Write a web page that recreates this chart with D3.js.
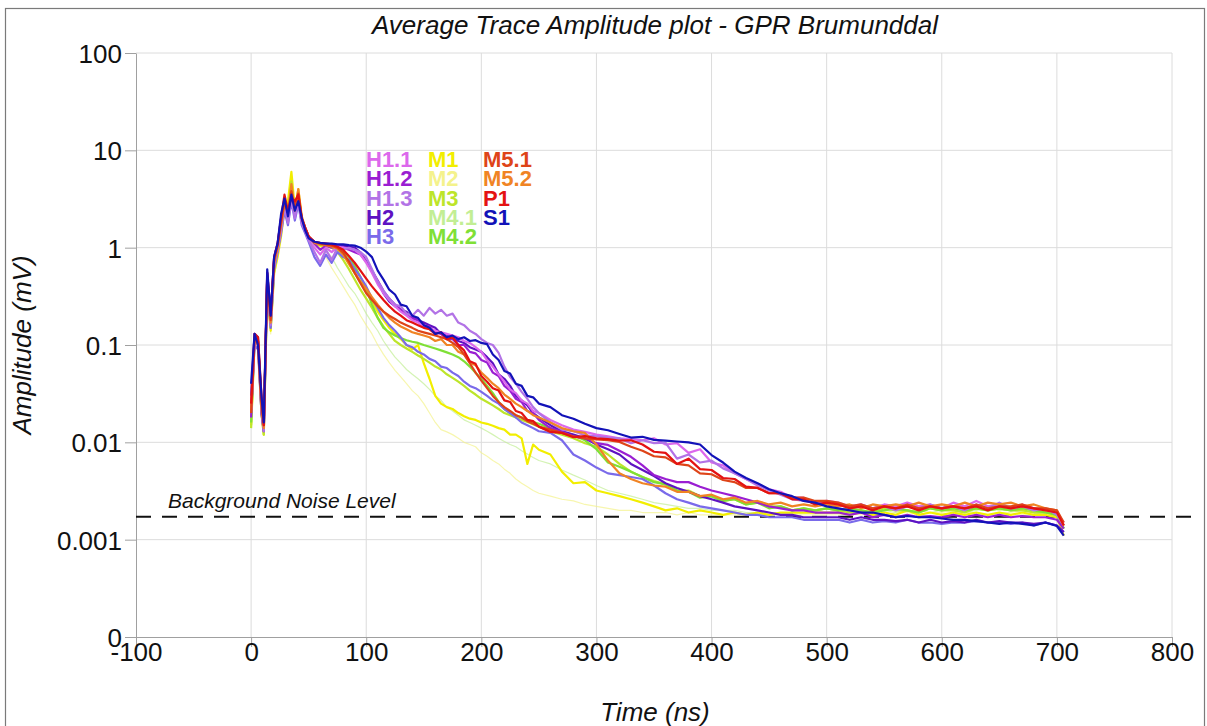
<!DOCTYPE html>
<html><head><meta charset="utf-8">
<script src="https://cdn.jsdelivr.net/npm/d3@7"></script>
<style>body{margin:0;background:#fff;} svg{display:block;font-family:"Liberation Sans",Arial,sans-serif;}</style>
</head><body><svg id="c" width="1207" height="726"></svg>
<script>
// ---- data (time in ns, amplitude in mV) ----
const times = [0,3,6,9,11,14,17,20,23,26,29,32,35,38,41,44,47,50,
55,60,65,70,75,80,85,90,95,100,
105,110,115,120,125,130,135,140,145,150,
155,160,165,170,175,180,185,190,195,200,
205,210,215,220,225,230,235,240,245,250,
260,270,280,290,300,310,320,330,340,350,
360,370,380,390,400,410,420,430,440,450,
460,470,480,490,500,
510,520,530,540,550,560,570,580,590,600,
610,620,630,640,650,660,670,680,690,700,706];

const S1 = [0.04,0.13,0.1,0.03,0.016,0.6,0.2,0.8,1.1,2.2,3.2,2.1,3.5,2.4,3.0,2.0,1.5,1.25,
1.15,1.12,1.1,1.1,1.08,1.08,1.06,1.05,1.0,0.91,
0.8,0.58,0.47,0.37,0.33,0.26,0.25,0.2,0.19,0.16,
0.15,0.13,0.135,0.12,0.125,0.115,0.12,0.11,0.112,0.105,
0.102,0.08,0.07,0.054,0.051,0.04,0.038,0.03,0.029,0.025,
0.023,0.019,0.0175,0.0155,0.014,0.0133,0.0122,0.0112,0.0114,0.0106,
0.0104,0.0102,0.01,0.0095,0.0074,0.0062,0.005,0.0043,0.0038,0.0033,
0.003,0.0028,0.0025,0.0024,0.0022,
0.0021,0.002,0.0019,0.0019,0.0018,0.0017,0.00175,0.0017,0.0017,0.00165,
0.0016,0.0016,0.00155,0.0015,0.00145,0.0015,0.00145,0.0014,0.0015,0.00138,0.0011];

const H1_3 = [0.02,0.11,0.1,0.022,0.013,0.45,0.16,0.65,0.95,1.5,2.6,1.8,3.2,2.0,3.4,1.8,1.5,1.2,
0.9,0.7,0.95,0.75,1.0,0.95,1.0,0.95,0.9,0.8,
0.6,0.45,0.36,0.3,0.26,0.25,0.21,0.2,0.23,0.2,
0.24,0.21,0.23,0.2,0.21,0.17,0.16,0.14,0.13,0.115,
0.105,0.1,0.083,0.06,0.047,0.04,0.033,0.028,0.023,0.02,
0.016,0.0135,0.013,0.0118,0.0115,0.0112,0.011,0.0098,0.0105,0.0098,
0.0099,0.0068,0.0075,0.0062,0.0065,0.0054,0.0048,0.0042,0.0036,0.0032,
0.0029,0.0026,0.0025,0.0024,0.0023,
0.0023,0.0021,0.0023,0.0021,0.0022,0.002,0.0022,0.0021,0.0023,0.0021,
0.0022,0.002,0.0023,0.0021,0.0024,0.0021,0.0022,0.002,0.0021,0.0018,0.0014];

const H1_2 = [0.018,0.12,0.11,0.02,0.013,0.5,0.18,0.75,1.0,1.7,2.9,2.0,3.6,2.1,3.3,1.9,1.6,1.3,
1.1,0.95,1.05,1.0,1.05,1.0,0.95,0.9,0.85,0.72,
0.58,0.46,0.36,0.3,0.26,0.23,0.21,0.19,0.18,0.16,
0.155,0.135,0.13,0.115,0.115,0.1,0.1,0.085,0.082,0.07,
0.066,0.052,0.048,0.038,0.034,0.028,0.026,0.021,0.02,0.017,
0.014,0.0128,0.0115,0.011,0.0098,0.0094,0.0082,0.0071,0.0058,0.0046,
0.0042,0.0039,0.0039,0.0035,0.0032,0.003,0.0028,0.0026,0.0024,0.0022,
0.0021,0.002,0.002,0.0019,0.0019,
0.0019,0.0018,0.0019,0.0017,0.0018,0.0017,0.0018,0.0017,0.00175,0.0017,
0.0018,0.0017,0.0018,0.0017,0.0018,0.0017,0.00175,0.0017,0.0017,0.0016,0.0013];

const H1_1 = [0.022,0.11,0.1,0.025,0.015,0.45,0.17,0.7,0.95,1.6,2.7,1.9,3.4,2.1,3.1,1.8,1.5,1.2,
1.0,0.85,1.0,0.9,1.02,1.0,0.98,0.95,0.85,0.7,
0.55,0.42,0.34,0.29,0.25,0.22,0.2,0.18,0.17,0.155,
0.15,0.14,0.135,0.13,0.125,0.12,0.11,0.105,0.095,0.085,
0.07,0.06,0.05,0.042,0.035,0.032,0.027,0.025,0.021,0.02,
0.017,0.015,0.0135,0.0128,0.012,0.0115,0.011,0.0108,0.0105,0.011,
0.0095,0.0098,0.0078,0.0085,0.0062,0.0058,0.0048,0.0042,0.0037,0.0033,
0.0031,0.0027,0.0027,0.0024,0.0025,
0.0024,0.0022,0.0023,0.0021,0.0023,0.0022,0.0024,0.0022,0.0023,0.0021,
0.0024,0.0022,0.0025,0.0022,0.0023,0.0021,0.0023,0.0021,0.0021,0.0019,0.0015];

const H2 = [0.03,0.13,0.12,0.028,0.014,0.55,0.2,0.8,1.1,2.0,3.0,2.2,3.6,2.3,3.2,2.0,1.6,1.3,
1.15,1.1,1.1,1.08,1.05,1.05,1.02,1.0,0.89,0.72,
0.58,0.45,0.34,0.28,0.25,0.23,0.22,0.19,0.18,0.17,
0.16,0.15,0.13,0.128,0.118,0.11,0.105,0.095,0.09,0.085,
0.075,0.065,0.05,0.045,0.038,0.03,0.027,0.024,0.02,0.018,
0.015,0.013,0.012,0.011,0.0095,0.0085,0.0075,0.006,0.0052,0.0045,
0.0038,0.0034,0.0031,0.0028,0.0026,0.0024,0.0022,0.0021,0.002,0.0019,
0.0018,0.0018,0.0017,0.0017,0.0017,
0.0017,0.0016,0.0017,0.0016,0.0016,0.00155,0.0016,0.0015,0.0016,0.0015,
0.00155,0.0015,0.0016,0.0015,0.00155,0.0015,0.0015,0.00145,0.0015,0.0014,0.0012];

const H3 = [0.02,0.1,0.09,0.02,0.013,0.4,0.15,0.6,0.9,1.4,2.4,1.7,3.0,1.9,2.8,1.7,1.4,1.15,
0.8,0.65,0.85,0.7,0.9,0.8,0.75,0.6,0.5,0.4,
0.3,0.24,0.19,0.16,0.14,0.12,0.1,0.095,0.085,0.08,
0.072,0.068,0.06,0.058,0.052,0.048,0.042,0.038,0.036,0.033,
0.03,0.027,0.025,0.022,0.02,0.018,0.016,0.015,0.014,0.013,
0.0125,0.0105,0.0075,0.0065,0.0055,0.0048,0.0046,0.0044,0.0042,0.0036,
0.003,0.0026,0.0024,0.0022,0.0021,0.002,0.0019,0.0018,0.0018,0.0017,
0.0017,0.0017,0.0016,0.0016,0.0016,
0.0016,0.0015,0.0016,0.0015,0.00155,0.0015,0.0016,0.0015,0.0015,0.00145,
0.0015,0.0015,0.00155,0.0015,0.0015,0.00145,0.0015,0.0014,0.0015,0.0014,0.0012];

const M1 = [0.015,0.11,0.1,0.02,0.012,0.35,0.14,0.55,0.8,1.3,2.5,3.0,6.0,2.5,4.0,2.0,1.6,1.3,
1.1,1.05,1.03,1.0,0.95,0.85,0.68,0.55,0.44,0.36,
0.28,0.22,0.18,0.15,0.13,0.115,0.1,0.09,0.1,0.065,
0.045,0.03,0.025,0.023,0.022,0.02,0.0185,0.0175,0.017,0.016,
0.0155,0.0148,0.014,0.0135,0.012,0.012,0.011,0.006,0.0095,0.0084,
0.0075,0.005,0.0038,0.0039,0.0032,0.003,0.0028,0.0026,0.0024,0.0022,
0.002,0.0021,0.0019,0.002,0.0019,0.0018,0.0019,0.0018,0.0019,0.0018,
0.0019,0.0019,0.0019,0.0019,0.0019,
0.0019,0.0018,0.0019,0.0018,0.0019,0.0018,0.002,0.0018,0.0019,0.0018,
0.0019,0.0018,0.0019,0.0018,0.0019,0.0018,0.0019,0.0018,0.0018,0.0017,0.0011];

const M2 = [0.016,0.1,0.09,0.02,0.013,0.35,0.13,0.5,0.8,1.3,2.2,1.8,4.5,2.0,3.0,1.7,1.4,1.2,
1.05,1.0,0.8,0.62,0.5,0.4,0.32,0.26,0.2,0.16,
0.13,0.1,0.08,0.066,0.055,0.047,0.04,0.034,0.03,0.025,
0.02,0.016,0.0135,0.0128,0.012,0.011,0.01,0.0095,0.009,0.0078,
0.0072,0.0065,0.006,0.0053,0.0048,0.0042,0.0038,0.0035,0.0032,0.003,
0.0028,0.0026,0.0025,0.0023,0.0022,0.0021,0.002,0.002,0.0019,0.0019,
0.0019,0.0018,0.0019,0.0018,0.0018,0.0018,0.0018,0.0018,0.0018,0.0018,
0.0018,0.0018,0.0018,0.0018,0.0018,
0.0018,0.0019,0.0018,0.0019,0.0018,0.0019,0.0019,0.0018,0.0019,0.0019,
0.0018,0.0019,0.0019,0.0018,0.0019,0.0019,0.0018,0.0019,0.0018,0.0017,0.0012];

const M3 = [0.014,0.11,0.1,0.02,0.012,0.4,0.15,0.6,0.9,1.5,2.6,2.2,4.8,2.2,3.5,1.9,1.5,1.25,
1.1,1.07,1.05,1.0,0.9,0.75,0.6,0.47,0.37,0.3,
0.24,0.19,0.155,0.13,0.11,0.1,0.092,0.085,0.078,0.072,
0.066,0.06,0.056,0.05,0.046,0.042,0.038,0.034,0.031,0.028,
0.026,0.024,0.022,0.02,0.019,0.018,0.017,0.0162,0.0153,0.0145,
0.013,0.012,0.011,0.0098,0.009,0.0075,0.006,0.005,0.0044,0.004,
0.0037,0.0032,0.0032,0.0028,0.0028,0.0025,0.0026,0.0023,0.0024,0.0022,
0.0022,0.002,0.0021,0.002,0.0021,
0.002,0.0019,0.002,0.0019,0.0021,0.002,0.002,0.0019,0.0021,0.002,
0.002,0.0019,0.0021,0.002,0.0021,0.002,0.002,0.0019,0.0019,0.0018,0.0013];

const M4_1 = [0.017,0.1,0.1,0.022,0.013,0.4,0.14,0.55,0.85,1.4,2.3,1.9,3.5,2.0,2.9,1.7,1.4,1.2,
1.08,1.04,0.95,0.8,0.62,0.5,0.4,0.34,0.27,0.21,
0.17,0.14,0.11,0.09,0.075,0.065,0.056,0.05,0.045,0.04,
0.035,0.03,0.027,0.023,0.021,0.019,0.017,0.016,0.015,0.014,
0.013,0.012,0.011,0.0102,0.0095,0.009,0.0082,0.0076,0.007,0.0065,
0.006,0.0052,0.0046,0.0041,0.0036,0.0032,0.003,0.0028,0.0026,0.0024,
0.0023,0.0022,0.0021,0.0021,0.002,0.002,0.002,0.0019,0.0019,0.0019,
0.0019,0.0019,0.0019,0.0019,0.0019,
0.0019,0.002,0.0019,0.002,0.002,0.0019,0.002,0.002,0.0019,0.002,
0.002,0.0019,0.002,0.0021,0.002,0.002,0.0019,0.002,0.0019,0.0018,0.0013];

const M4_2 = [0.016,0.12,0.11,0.024,0.014,0.45,0.16,0.65,0.95,1.5,2.7,2.0,3.9,2.1,3.2,1.8,1.5,1.25,
1.12,1.08,1.06,1.03,1.0,0.92,0.8,0.65,0.5,0.38,
0.26,0.19,0.15,0.135,0.125,0.118,0.112,0.108,0.105,0.1,
0.096,0.092,0.088,0.084,0.08,0.075,0.068,0.06,0.052,0.045,
0.038,0.032,0.026,0.022,0.02,0.019,0.018,0.017,0.0162,0.0155,
0.014,0.013,0.0118,0.0105,0.0085,0.0062,0.0056,0.005,0.0044,0.0039,
0.0037,0.0032,0.0031,0.0027,0.0028,0.0025,0.0026,0.0023,0.0024,0.0021,
0.0022,0.002,0.0021,0.002,0.0021,
0.002,0.0021,0.002,0.0019,0.002,0.0021,0.002,0.0019,0.0021,0.002,
0.0021,0.002,0.0021,0.002,0.0021,0.002,0.0021,0.002,0.0019,0.0018,0.0013];

const M5_1 = [0.02,0.12,0.11,0.025,0.015,0.5,0.18,0.75,1.05,1.8,3.0,2.3,3.8,2.6,3.6,2.0,1.6,1.3,
1.15,1.1,1.08,1.05,1.0,0.89,0.72,0.55,0.43,0.34,
0.29,0.25,0.22,0.2,0.185,0.17,0.16,0.15,0.14,0.135,
0.13,0.125,0.12,0.115,0.105,0.095,0.08,0.065,0.052,0.043,
0.036,0.03,0.026,0.023,0.021,0.019,0.018,0.0165,0.0155,0.0145,
0.0135,0.0125,0.0115,0.011,0.0107,0.0105,0.0101,0.009,0.0082,0.0072,
0.007,0.006,0.0058,0.0048,0.0047,0.0041,0.0039,0.0034,0.0034,0.003,
0.003,0.0027,0.0027,0.0025,0.0025,
0.0024,0.0022,0.0023,0.0021,0.0022,0.0021,0.0023,0.0021,0.0022,0.0021,
0.0022,0.0021,0.0023,0.0021,0.0022,0.0022,0.0023,0.0021,0.0021,0.002,0.0015];

const M5_2 = [0.02,0.12,0.1,0.022,0.014,0.5,0.17,0.7,1.0,1.7,2.8,2.3,4.5,2.4,4.0,2.1,1.6,1.3,
1.12,1.08,1.06,1.03,0.98,0.85,0.68,0.55,0.45,0.38,
0.31,0.26,0.22,0.19,0.17,0.155,0.145,0.135,0.13,0.125,
0.12,0.11,0.115,0.1,0.1,0.085,0.08,0.066,0.062,0.052,
0.046,0.04,0.036,0.031,0.028,0.025,0.023,0.021,0.019,0.018,
0.016,0.014,0.013,0.0125,0.0095,0.0065,0.0048,0.0042,0.0038,0.0036,
0.0035,0.0031,0.0031,0.0028,0.0029,0.0026,0.0027,0.0024,0.0025,0.0023,
0.0024,0.0022,0.0023,0.0022,0.0023,
0.0022,0.0023,0.0021,0.0023,0.0022,0.0023,0.0022,0.0024,0.0022,0.0023,
0.0022,0.0024,0.0022,0.0024,0.0023,0.0024,0.0022,0.0023,0.0021,0.002,0.0014];

const P1 = [0.025,0.13,0.12,0.03,0.015,0.55,0.2,0.8,1.1,2.0,3.5,2.4,3.3,3.0,3.5,2.0,1.6,1.3,
1.15,1.12,1.1,1.08,1.02,0.95,0.82,0.7,0.58,0.48,
0.4,0.34,0.29,0.25,0.22,0.2,0.18,0.17,0.16,0.15,
0.145,0.13,0.135,0.115,0.12,0.1,0.088,0.068,0.064,0.048,
0.042,0.036,0.034,0.027,0.026,0.021,0.02,0.017,0.0165,0.0145,
0.0128,0.0125,0.0113,0.0116,0.011,0.0108,0.0104,0.0105,0.0095,0.008,
0.0078,0.006,0.0068,0.0053,0.0052,0.0043,0.0042,0.0035,0.0034,0.003,
0.003,0.0026,0.0026,0.0023,0.0024,
0.0023,0.0021,0.0022,0.002,0.0022,0.0021,0.0022,0.002,0.0022,0.0021,
0.0022,0.0021,0.0022,0.002,0.0022,0.0021,0.0022,0.0021,0.002,0.0019,0.0014];

const seriesNames = ["H1.1","H1.2","H1.3","H2","H3","M1","M2","M3","M4.1","M4.2","M5.1","M5.2","P1","S1"];
const seriesValues = [H1_1,H1_2,H1_3,H2,H3,M1,M2,M3,M4_1,M4_2,M5_1,M5_2,P1,S1];
const seriesColors = ["#dc68ec","#9a1ed2","#b273e6","#5e12c2","#7a6aea","#f2ee00","#f4f28c","#bde52a","#c2ee94","#7fe036","#de4418","#f08424","#e41212","#1212b8"];
const drawOrder = ["M2","M4.1","M1","M3","M4.2","H3","H2","H1.2","H1.1","H1.3","M5.2","M5.1","P1","S1"];
const faintSeries = ["M2","M4.1"];

const xTicks = [-100,0,100,200,300,400,500,600,700,800];
const yTickValues = [0.0001,0.001,0.01,0.1,1,10,100];
const yTickLabels = ["0","0.001","0.01","0.1","1","10","100"];
const noiseLevel = 0.00172;

const legendColumns = [["H1.1","H1.2","H1.3","H2","H3"],["M1","M2","M3","M4.1","M4.2"],["M5.1","M5.2","P1","S1"]];

// ---- drawing ----
const svg = d3.select("#c");
const L = 136, R = 1172, T = 53, B = 637;
const x = d3.scaleLinear().domain([-100, 800]).range([L, R]);
const y = d3.scaleLog().domain([0.0001, 100]).range([B, T]);

svg.append("rect").attr("x",5.5).attr("y",8.5).attr("width",1199).attr("height",740)
  .attr("fill","#fff").attr("stroke","#7a7a7a").attr("stroke-width",1.2);

// grid
const grid = svg.append("g");
grid.selectAll("line.v").data(xTicks.filter(d=>d!==-100)).join("line")
  .attr("x1",d=>x(d)).attr("x2",d=>x(d)).attr("y1",T).attr("y2",B)
  .attr("stroke","#dcdcdc").attr("stroke-width",1);
grid.selectAll("line.h").data(yTickValues.filter(d=>d!==0.0001)).join("line")
  .attr("x1",L).attr("x2",R).attr("y1",d=>y(d)).attr("y2",d=>y(d))
  .attr("stroke","#dcdcdc").attr("stroke-width",1);

// axes
const xAxis = svg.append("g").attr("transform",`translate(0,${B})`)
  .call(d3.axisBottom(x).tickValues(xTicks).tickSize(10).tickSizeOuter(0).tickFormat(d=>String(d)));
xAxis.select(".domain").attr("stroke","#a0a0a0");
xAxis.selectAll(".tick line").attr("stroke","#a0a0a0");
xAxis.selectAll("text").attr("y",24).attr("dy",0).attr("font-size",26).attr("fill","#111")
  .attr("font-family","Liberation Sans, Arial, sans-serif");

const yAxis = svg.append("g").attr("transform",`translate(${L},0)`)
  .call(d3.axisLeft(y).tickValues(yTickValues).tickSize(11).tickSizeOuter(0).tickFormat((d,i)=>yTickLabels[i]));
yAxis.select(".domain").attr("stroke","#a0a0a0");
yAxis.selectAll(".tick line").attr("stroke","#a0a0a0");
yAxis.selectAll("text").attr("x",-14).attr("dy","0.36em").attr("font-size",26).attr("fill","#111")
  .attr("font-family","Liberation Sans, Arial, sans-serif");

// noise level
svg.append("line").attr("x1",L).attr("x2",1200).attr("y1",y(noiseLevel)).attr("y2",y(noiseLevel))
  .attr("stroke","#111").attr("stroke-width",2).attr("stroke-dasharray","15,11");
svg.append("text").attr("x",168).attr("y",y(noiseLevel)-9).attr("font-size",21).attr("font-style","italic")
  .attr("fill","#111").text("Background Noise Level");

// series lines
const line = d3.line().x((d,i)=>x(times[i])).y(d=>y(d));
const lines = svg.append("g").attr("fill","none").attr("stroke-linejoin","round");
drawOrder.forEach(name=>{
  const k = seriesNames.indexOf(name);
  const faint = faintSeries.includes(name);
  lines.append("path").datum(seriesValues[k])
    .attr("d", line)
    .attr("stroke", seriesColors[k])
    .attr("stroke-width", faint ? 1.2 : 2.2)
    .attr("opacity", faint ? 0.7 : 1);
});

// legend
const colX = [366, 428, 483];
legendColumns.forEach((col,ci)=>{
  col.forEach((name,ri)=>{
    const k = seriesNames.indexOf(name);
    svg.append("text").attr("x",colX[ci]).attr("y",167 + ri*19.3)
      .attr("font-size",22).attr("font-weight","bold").attr("fill",seriesColors[k]).text(name);
  });
});

// titles
svg.append("text").attr("x",655).attr("y",34).attr("text-anchor","middle").attr("font-size",26)
  .attr("font-style","italic").attr("fill","#111").text("Average Trace Amplitude plot - GPR Brumunddal");
svg.append("text").attr("x",655).attr("y",721).attr("text-anchor","middle").attr("font-size",26)
  .attr("font-style","italic").attr("fill","#111").text("Time (ns)");
svg.append("text").attr("transform","translate(31,345) rotate(-90)").attr("text-anchor","middle").attr("font-size",26)
  .attr("font-style","italic").attr("fill","#111").text("Amplitude (mV)");
</script></body></html>
